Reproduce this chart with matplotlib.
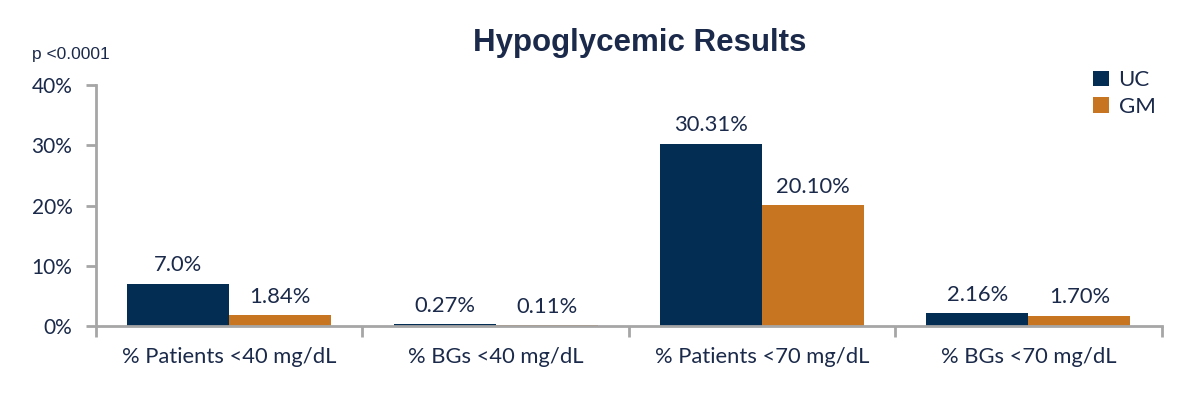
import matplotlib
matplotlib.use("Agg")
import matplotlib.pyplot as plt
import numpy as np
from matplotlib.ticker import FuncFormatter, FixedLocator

categories = ["% Patients <40 mg/dL", "% BGs <40 mg/dL", "% Patients <70 mg/dL", "% BGs <70 mg/dL"]
uc_values = [7.0, 0.27, 30.31, 2.16]
gm_values = [1.84, 0.11, 20.10, 1.70]
uc_labels = ["7.0%", "0.27%", "30.31%", "2.16%"]
gm_labels = ["1.84%", "0.11%", "20.10%", "1.70%"]
y_ticks = [0, 10, 20, 30, 40]

navy = "#042d54"
orange = "#c87522"
text_col = "#1b2a4a"
grey = "#a6a6a6"

plt.rcParams["font.family"] = ["Lato", "DejaVu Sans"]

fig = plt.figure(figsize=(12, 3.98), dpi=100)
ax = fig.add_axes([0.08, 0.181, 0.888, 0.605])

x = np.arange(len(categories))
w = 0.383
b1 = ax.bar(x - w / 2, uc_values, w, color=navy, label="UC")
b2 = ax.bar(x + w / 2, gm_values, w, color=orange, label="GM")

for bars, labels in ((b1, uc_labels), (b2, gm_labels)):
    for rect, lab in zip(bars, labels):
        ax.annotate(lab, (rect.get_x() + rect.get_width() / 2, rect.get_height()),
                    xytext=(0, 6), textcoords="offset points", ha="center", va="bottom",
                    fontsize=15.8, color=text_col)

ax.set_xlim(-0.5, len(categories) - 0.5)
ax.set_ylim(0, 40)
ax.set_yticks(y_ticks)
ax.yaxis.set_major_formatter(FuncFormatter(lambda v, p: "%d%%" % v))
ax.set_xticks(x)
ax.set_xticklabels(categories)
ax.xaxis.set_minor_locator(FixedLocator(np.arange(len(categories) + 1) - 0.5))
ax.tick_params(axis="x", which="major", length=0, pad=15, labelsize=15.8, labelcolor=text_col)
ax.tick_params(axis="x", which="minor", length=8, width=2, color=grey)
ax.tick_params(axis="y", length=7, width=2, color=grey, labelsize=15, labelcolor=text_col, pad=10)

for s in ("top", "right"):
    ax.spines[s].set_visible(False)
for s in ("left", "bottom"):
    ax.spines[s].set_color(grey)
    ax.spines[s].set_linewidth(2)

fig.text(0.533, 0.893, "Hypoglycemic Results", ha="center", va="center",
         fontsize=22.5, fontweight="bold", color=text_col, family=["Liberation Sans"])
fig.text(0.027, 0.862, "p <0.0001", ha="left", va="center", fontsize=12.5,
         color=text_col, family=["Liberation Sans"])

ax.legend(loc="upper right", bbox_to_anchor=(1.013, 1.145), frameon=False, fontsize=16,
          handlelength=0.7, handleheight=0.7, handletextpad=0.45, labelspacing=0.3,
          labelcolor=text_col)

fig.savefig("out.png", dpi=100)
